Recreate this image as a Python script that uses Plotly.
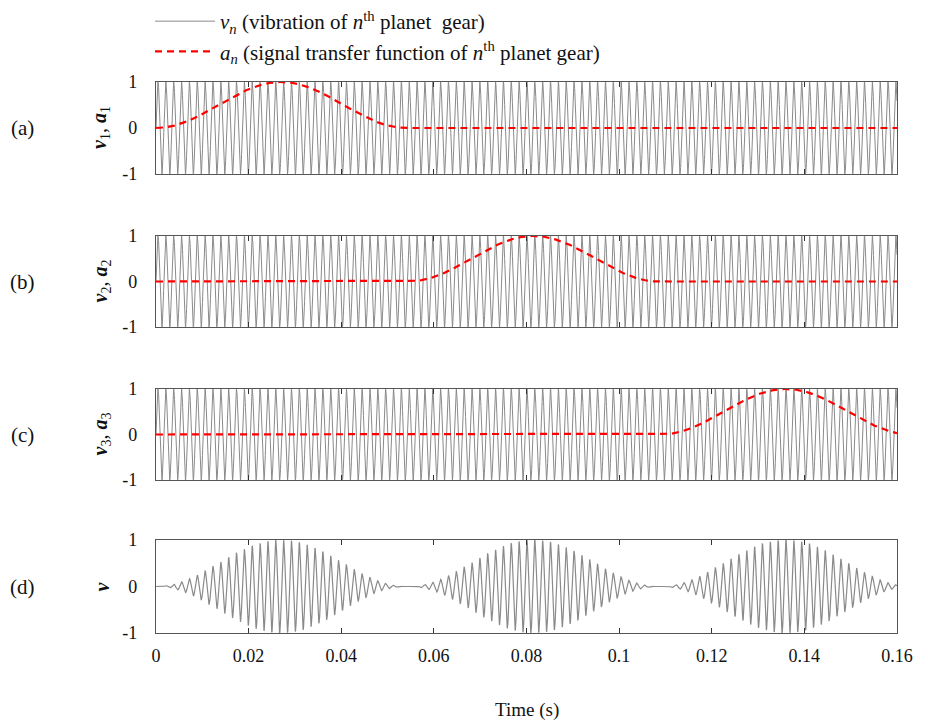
import numpy as np
import plotly.graph_objects as go
from plotly.subplots import make_subplots

# Signal parameters
t_end = 0.16                      # record length (s)
n_samples = 4001
mesh_freq = 590.0                 # planet gear vibration frequency (Hz)
window_centres = [0.027, 0.0815, 0.136]   # centre of each planet's pass (s)
window_width = 0.054              # duration of each transfer-function window (s)
panel_tags = ["(a)", "(b)", "(c)", "(d)"]
x_ticks = [0, 0.02, 0.04, 0.06, 0.08, 0.1, 0.12, 0.14, 0.16]
x_tick_text = ["0", "0.02", "0.04", "0.06", "0.08", "0.1", "0.12", "0.14", "0.16"]
y_ticks = [-1, 0, 1]
y_tick_text = ["-1", "0", "1"]

t = np.linspace(0, t_end, n_samples)
vib = np.sin(2 * np.pi * mesh_freq * t)


def hann_window(centre):
    u = (t - (centre - window_width / 2)) / window_width
    w = np.sin(np.pi * u) ** 2
    w[(u < 0) | (u > 1)] = 0.0
    return w


windows = [hann_window(c) for c in window_centres]
combined = sum(w * vib for w in windows)

GREY = "#8a8a8a"
RED = "#ff0000"
FONT = "'Times New Roman', 'Liberation Serif', serif"

fig = make_subplots(rows=4, cols=1)

for i, w in enumerate(windows):
    fig.add_trace(go.Scatter(
        x=t, y=vib, mode="lines", line=dict(color=GREY, width=1),
        name="<i>v<sub>n</sub></i> (vibration of <i>n</i><sup>th</sup> planet  gear)",
        showlegend=(i == 0), legendrank=1), row=i + 1, col=1)
for i, w in enumerate(windows):
    fig.add_trace(go.Scatter(
        x=t, y=w, mode="lines", line=dict(color=RED, width=2.2, dash="7px,5px"),
        name="<i>a<sub>n</sub></i> (signal transfer function of <i>n</i><sup>th</sup> planet gear)",
        showlegend=(i == 0), legendrank=2), row=i + 1, col=1)
fig.add_trace(go.Scatter(x=t, y=combined, mode="lines",
                         line=dict(color=GREY, width=1.2), showlegend=False),
              row=4, col=1)

W, H = 928, 722
x0_px, x1_px = 156, 897
panels_px = [(82, 174), (236, 327), (389, 480), (540, 633)]

ax_common = dict(showline=True, linecolor="#555555", linewidth=1.3, mirror="ticks",
                 showgrid=False, zeroline=False, ticks="inside", ticklen=5,
                 tickcolor="#333333", automargin=False,
                 tickfont=dict(family=FONT, size=18, color="#111111"))

layout_updates = {}
for i, (top, bot) in enumerate(panels_px):
    k = "" if i == 0 else str(i + 1)
    layout_updates["xaxis" + k] = dict(
        ax_common, domain=[x0_px / W, x1_px / W], range=[0, t_end],
        tickvals=x_ticks, ticktext=x_tick_text, showticklabels=(i == 3),
        ticklabelstandoff=6)
    layout_updates["yaxis" + k] = dict(
        ax_common, domain=[1 - bot / H, 1 - top / H], range=[-1, 1],
        tickvals=y_ticks, ticktext=y_tick_text, ticks="", ticklabelstandoff=14)
fig.update_layout(**layout_updates)

ann = []
y_titles = ["<b><i>v</i></b><sub>1</sub>, <b><i>a</i></b><sub>1</sub>",
            "<b><i>v</i></b><sub>2</sub>, <b><i>a</i></b><sub>2</sub>",
            "<b><i>v</i></b><sub>3</sub>, <b><i>a</i></b><sub>3</sub>",
            "<b><i>v</i></b>"]
for i, (top, bot) in enumerate(panels_px):
    yc = 1 - (top + bot) / 2 / H
    ann.append(dict(x=22 / W, y=yc, xref="paper", yref="paper", text=panel_tags[i],
                    xanchor="center", yanchor="middle", showarrow=False,
                    font=dict(family=FONT, size=21, color="#111111")))
    ann.append(dict(x=101 / W, y=yc, xref="paper", yref="paper", text=y_titles[i],
                    xanchor="center", yanchor="middle", textangle=-90, showarrow=False,
                    font=dict(family=FONT, size=20, color="#111111")))
ann.append(dict(x=(x0_px + x1_px) / 2 / W, y=1 - 710 / H, xref="paper", yref="paper",
                text="Time (s)", xanchor="center", yanchor="middle", showarrow=False,
                font=dict(family=FONT, size=19, color="#111111")))

fig.update_layout(
    width=W, height=H, margin=dict(l=0, r=0, t=0, b=0, autoexpand=False),
    plot_bgcolor="white", paper_bgcolor="white",
    font=dict(family=FONT, size=18, color="#111111"),
    annotations=ann,
    legend=dict(x=150 / W, y=1 - 1 / H, xanchor="left", yanchor="top",
                itemwidth=60, tracegroupgap=2,
                font=dict(family=FONT, size=21, color="#111111"),
                bgcolor="rgba(0,0,0,0)"),
)

fig.write_html("out.html")
